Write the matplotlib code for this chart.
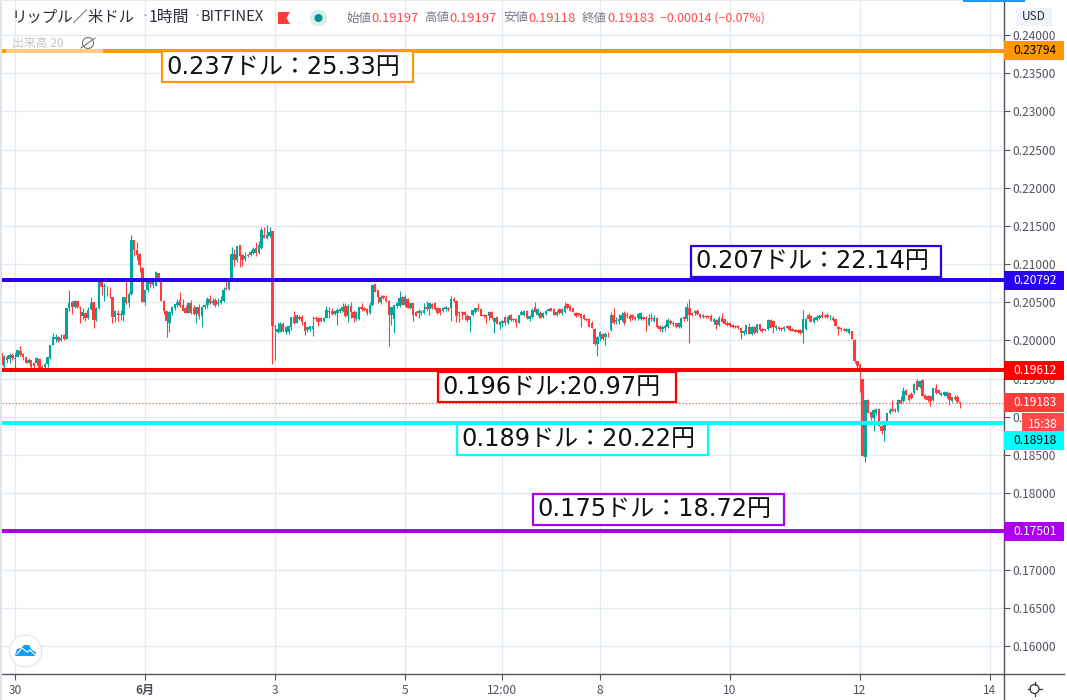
import matplotlib
matplotlib.use("Agg")
import matplotlib.pyplot as plt
import numpy as np
from matplotlib.patches import Rectangle, Circle, Polygon
from matplotlib.transforms import Affine2D, blended_transform_factory

plt.rcParams['font.family'] = ['Noto Sans CJK JP', 'DejaVu Sans']

# hourly candles, hours counted from 30 May 00:00, prices x 1e5
hours = np.arange(-5, 350)
opens = [19832,19668,19785,19758,19810,19757,19790,19862,19822,19788,19710,19745,19710,19710,19757,19657,19648,19690,19766,19940,20025,20046,20007,20072,20024,20421,20500,20434,20517,20443,20321,20356,20290,20408,20505,20270,20421,20770,20705,20640,20610,20565,20310,20360,20330,20330,20565,20485,20605,21310,21185,21130,20950,20510,20660,20790,20730,20715,20880,20770,20520,20380,20235,20360,20430,20465,20530,20465,20420,20365,20485,20420,20345,20445,20320,20445,20465,20545,20495,20530,20475,20490,20520,20685,20675,20815,21130,21055,21250,21120,21065,21120,21120,21140,21205,21140,21215,21385,21340,21370,21435,20190,20115,20115,20215,20115,20115,20180,20310,20235,20305,
20303,20245,20135,20145,20145,20300,20300,20295,20260,20300,20390,20390,20345,20365,20380,20390,20450,20325,20450,20375,20275,20280,20445,20420,20410,20365,20465,20735,20660,20500,20585,20560,20520,20335,20280,20450,20455,20575,20465,20545,20420,20485,20375,20355,20355,20365,20435,20415,20475,20487,20420,20420,20390,20410,20420,20420,20545,20520,20370,20370,20375,20325,20265,20335,20375,20430,20410,20335,20335,20320,20370,20245,20310,20200,20225,20310,20225,20335,20275,20275,20230,20335,20335,20390,20280,20310,20435,20335,20355,20310,20345,20390,20420,20410,20335,20410,20355,20375,20475,20450,20420,20365,20355,20345,20340,20280,20275,20235,20155,19950,
20050,20080,20040,20090,20135,20335,20245,20255,20270,20355,20340,20320,20335,20310,20290,20285,20310,20300,20200,20300,20260,20290,20195,20150,20160,20180,20260,20235,20225,20180,20180,20310,20275,20420,20355,20355,20380,20345,20305,20325,20325,20320,20245,20268,20200,20300,20275,20230,20225,20200,20190,20190,20170,20100,20115,20180,20090,20180,20115,20215,20150,20145,20145,20270,20260,20170,20180,20165,20145,20190,20190,20150,20135,20135,20135,20100,20150,20340,20320,20245,20270,20300,20335,20325,20340,20290,20300,20275,20180,20165,20155,20130,20100,20120,
20009,19726,19680,19495,18475,19225,19060,18990,19050,19105,18885,18810,18900,19050,19105,19095,19075,19225,19205,19355,19290,19305,19310,19465,19390,19480,19290,19270,19270,19215,19380,19355,19290,19290,19270,19310,19205,19255,19255,19197]
highs = [19850,19810,19810,19830,19840,19830,19880,19930,19830,19790,19770,19750,19720,19790,19770,19680,19710,19785,19945,20100,20090,20060,20080,20090,20430,20660,20520,20530,20520,20450,20420,20370,20440,20575,20510,20440,20770,20790,20750,20720,20700,20570,20400,20395,20400,20570,20780,20640,21380,21315,21290,21140,20960,20665,20760,20800,20810,20910,20890,20775,20530,20390,20380,20450,20480,20545,20630,20540,20470,20510,20530,20470,20440,20480,20455,20480,20565,20600,20550,20550,20550,20580,20700,20810,20790,21230,21200,21240,21255,21130,21160,21135,21180,21220,21290,21300,21480,21480,21510,21490,21440,20200,20240,20240,20240,20190,20195,20310,20380,20340,20340,
20335,20250,20180,20190,20315,20320,20310,20310,20310,20450,20440,20430,20400,20420,20430,20490,20490,20480,20500,20400,20390,20440,20495,20440,20430,20500,20730,20740,20665,20590,20600,20600,20530,20445,20470,20500,20650,20580,20600,20560,20490,20490,20380,20410,20400,20485,20520,20490,20490,20510,20440,20430,20445,20455,20440,20585,20570,20530,20380,20385,20390,20345,20325,20405,20440,20485,20420,20350,20350,20385,20385,20310,20320,20260,20270,20320,20330,20350,20290,20290,20335,20400,20400,20395,20340,20430,20500,20420,20390,20370,20400,20420,20430,20420,20400,20420,20420,20500,20490,20470,20430,20370,20365,20360,20350,20300,20290,20250,20160,20055,
20130,20095,20110,20105,20370,20420,20310,20350,20375,20380,20370,20345,20345,20325,20360,20370,20325,20320,20350,20355,20330,20310,20200,20200,20210,20290,20280,20250,20235,20240,20310,20320,20485,20545,20370,20395,20415,20365,20345,20340,20340,20350,20290,20285,20315,20355,20285,20250,20240,20210,20200,20200,20180,20140,20205,20225,20190,20190,20220,20220,20160,20155,20280,20285,20270,20200,20190,20175,20190,20200,20200,20160,20150,20150,20150,20400,20290,20360,20340,20310,20330,20350,20385,20345,20355,20330,20320,20285,20185,20180,20170,20170,20170,20130,
20015,19730,19700,19500,19220,19230,19070,19105,19110,19120,18895,18905,19055,19110,19225,19110,19230,19270,19390,19370,19300,19320,19440,19500,19470,19490,19300,19280,19280,19380,19430,19370,19330,19340,19340,19320,19265,19280,19280,19197]
lows = [19640,19640,19700,19700,19750,19635,19780,19800,19750,19700,19700,19635,19640,19680,19635,19630,19635,19650,19760,19935,19980,19980,19990,20010,20020,20380,20350,20420,20420,20230,20280,20255,20280,20400,20170,20260,20410,20600,20520,20580,20550,20230,20240,20250,20270,20260,20480,20440,20600,21100,21050,20900,20500,20465,20640,20700,20690,20710,20770,20520,20350,20040,20115,20340,20400,20440,20440,20380,20360,20360,20350,20340,20230,20280,20180,20410,20430,20480,20470,20440,20450,20480,20510,20660,20660,20810,20980,21030,20960,20970,21040,21090,21100,21130,21100,21130,21200,21340,21330,21360,19690,19745,20095,20110,20115,20090,20090,20140,20220,20225,20270,
20200,20070,20110,20120,20060,20260,20190,20240,20240,20290,20290,20330,20330,20200,20360,20370,20310,20240,20290,20245,20260,20270,20390,20380,20340,20350,20450,20630,20485,20480,20540,20500,19925,20200,20100,20430,20440,20460,20450,20420,20410,20260,20320,20290,20340,20345,20390,20335,20410,20400,20350,20340,20370,20380,20390,20255,20500,20245,20245,20280,20270,20245,20105,20320,20360,20390,20325,20300,20230,20265,20285,20100,20210,20150,20180,20200,20210,20260,20255,20180,20225,20330,20320,20285,20255,20300,20370,20320,20290,20300,20330,20380,20380,20330,20320,20350,20340,20360,20415,20385,20375,20310,20320,20180,20270,20255,20175,20165,19935,19795,
19990,20010,19940,20050,20120,20220,20210,20220,20260,20200,20300,20260,20270,20270,20270,20270,20270,20125,20190,20260,20240,20160,20130,20110,20130,20170,20210,20195,20170,20170,20170,20260,20260,19970,20320,20340,20340,20300,20290,20300,20300,20255,20220,20150,20190,20240,20210,20195,20180,20170,20165,20145,20015,20070,20090,20080,20075,20090,20100,20130,20110,20125,20135,20160,20100,20140,20135,20130,20130,20160,20130,20120,20105,20100,20090,19970,20140,20260,20240,20230,20260,20280,20290,20290,20290,20270,20255,20185,20070,20130,20125,20110,20085,20020,
19700,19640,19320,18485,18405,19050,18960,18810,19030,18885,18780,18680,18890,19040,19060,19060,19060,19165,19190,19280,19210,19240,19300,19355,19380,19270,19230,19200,19145,19210,19300,19300,19270,19270,19250,19160,19190,19220,19185,19118]
closes = [19679,19797,19745,19810,19766,19766,19875,19810,19788,19710,19745,19657,19660,19766,19635,19640,19690,19780,19940,20050,20042,19998,20037,20020,20421,20487,20434,20517,20443,20421,20373,20299,20400,20487,20270,20430,20770,20700,20718,20630,20600,20310,20390,20330,20343,20565,20485,20605,21310,21185,21120,20990,20510,20660,20760,20740,20790,20900,20770,20520,20380,20250,20370,20445,20475,20500,20450,20390,20365,20495,20355,20345,20435,20320,20445,20465,20545,20495,20520,20465,20510,20530,20660,20670,20760,21130,21055,21240,21110,21055,21110,21112,21155,21195,21140,21250,21450,21340,21385,21425,20190,20175,20150,20215,20130,20180,20190,20305,20225,20335,20280,
20245,20125,20180,20188,20188,20280,20245,20255,20300,20400,20375,20345,20380,20400,20410,20435,20325,20450,20375,20290,20375,20435,20410,20400,20355,20465,20730,20640,20565,20575,20550,20515,20335,20443,20465,20487,20560,20465,20565,20420,20485,20335,20320,20390,20390,20400,20410,20487,20420,20410,20355,20355,20430,20435,20412,20545,20520,20325,20355,20355,20335,20265,20320,20400,20420,20400,20325,20320,20310,20370,20290,20300,20210,20245,20260,20235,20310,20270,20265,20225,20335,20375,20390,20290,20325,20400,20375,20410,20300,20355,20390,20410,20390,20335,20375,20355,20410,20450,20420,20390,20375,20325,20335,20290,20275,20265,20180,20170,19950,20050,
20115,20025,20090,20080,20335,20235,20268,20275,20335,20235,20320,20275,20290,20275,20345,20355,20275,20275,20300,20275,20290,20180,20150,20180,20195,20268,20225,20215,20180,20225,20290,20275,20435,20340,20340,20380,20345,20310,20335,20310,20310,20260,20275,20200,20300,20245,20210,20200,20190,20180,20180,20160,20100,20125,20200,20090,20180,20100,20215,20135,20125,20135,20270,20170,20180,20190,20150,20145,20180,20170,20135,20125,20115,20110,20100,20275,20275,20275,20245,20290,20310,20320,20305,20305,20305,20300,20270,20190,20145,20145,20135,20145,20155,20025,
19726,19660,19640,18485,19215,19050,19000,19095,19105,18885,18810,18900,19050,19095,19075,19075,19225,19180,19335,19290,19225,19250,19435,19355,19465,19270,19235,19215,19210,19380,19310,19310,19310,19320,19320,19225,19255,19235,19190,19183]

price_ticks = np.arange(0.16, 0.2401, 0.005)
time_ticks = [0, 48, 96, 144, 180, 216, 264, 312, 360]
time_labels = ['30', '6月', '3', '5', '12:00', '8', '10', '12', '14']
levels = [0.23794, 0.20792, 0.19612, 0.18918, 0.17501]
level_colors = ['#ff9800', '#2a00f0', '#ff0000', '#00ffff', '#aa00ee']
level_text = ['black', 'white', 'white', 'black', 'white']
tag_shift = [0, 0, 0, 17, 0]   # cyan tag is pushed down below the countdown
notes = ['0.237ドル：25.33円', '0.207ドル：22.14円', '0.196ドル:20.97円', '0.189ドル：20.22円', '0.175ドル：18.72円']
note_boxes = [(162, 51, 251, 31), (691, 246, 250, 31), (438, 372, 238, 30), (457, 424, 251, 31), (533, 494, 251, 31)]
last_price = 0.19183

UP = '#00a79d'
DOWN = '#ff3b3b'
AXIS = '#50535e'
GRID = '#e1ecf2'
LABEL = '#787b86'

fig = plt.figure(figsize=(10.67, 7.0), dpi=100)
W, H = 1067.0, 700.0
# pixel position helper for the decorations (origin top left)
px = Affine2D().scale(1 / W, -1 / H).translate(0, 1) + fig.transFigure

ax = fig.add_axes([2 / W, 26 / H, 1002 / W, 674 / H])
ax.set_xlim((2 - 15) * 24 / 65, (1004 - 15) * 24 / 65)
ax.set_ylim(0.24 - (674 - 35) / 7637.5, 0.24 + 35 / 7637.5)

o = np.array(opens) / 1e5
h = np.array(highs) / 1e5
l = np.array(lows) / 1e5
c = np.array(closes) / 1e5
colors = [UP if b >= a else DOWN for a, b in zip(o, c)]
ax.vlines(hours, l, h, colors=colors, linewidth=0.8, zorder=3)
ax.bar(hours, np.maximum(np.abs(c - o), 0.00002), bottom=np.minimum(o, c), width=0.92, color=colors, linewidth=0, zorder=3)

ax.axhline(last_price, color=DOWN, linewidth=0.8, linestyle=(0, (1, 2)), zorder=4)
for lev, col in zip(levels, level_colors):
    ax.axhline(lev, color=col, linewidth=2.9, zorder=5)

ax.yaxis.tick_right()
ax.set_yticks(price_ticks)
# 0.17500 sits fully under the purple tag
ax.set_yticklabels(['' if abs(t - 0.175) < 1e-6 else '%.5f' % t for t in price_ticks], fontsize=8.6, color=AXIS)
ax.set_xticks(time_ticks)
ax.set_xticklabels(time_labels, fontsize=8.6, color=AXIS)
ax.get_xticklabels()[1].set_fontweight('bold')
ax.tick_params(axis='y', length=4, width=0.8, color=AXIS, pad=2)
ax.tick_params(axis='x', length=4, width=0.8, color=AXIS, pad=3)
ax.grid(True, color=GRID, linewidth=1.0, zorder=0)
ax.set_axisbelow(True)
for s in ['left', 'top']:
    ax.spines[s].set_visible(False)
for s in ['right', 'bottom']:
    ax.spines[s].set_color(AXIS)
    ax.spines[s].set_linewidth(1.0)

# axis lines run on past the plot
fig.add_artist(plt.Line2D([1004, 1004], [674, 700], transform=px, color=AXIS, linewidth=1.0))
fig.add_artist(plt.Line2D([1004, 1064], [674, 674], transform=px, color=AXIS, linewidth=1.0))
fig.add_artist(Rectangle((0, 0), 2, 700, transform=px, color='#dfe3ee', linewidth=0))
fig.add_artist(Rectangle((0, 0), 1004, 1, transform=px, color='#e8ebf2', linewidth=0))
fig.add_artist(Rectangle((963, 0), 62, 1.5, transform=px, color='#2196f3', linewidth=0))

# price tags on the right scale
trans = blended_transform_factory(ax.transAxes, ax.transData)
tag_w = 60 / 1002.0
tag_h = 19 / 7637.5
for lev, col, tc, sh in zip(levels, level_colors, level_text, tag_shift):
    mid = lev - sh / 7637.5
    ax.add_patch(Rectangle((1, mid - tag_h / 2), tag_w, tag_h, transform=trans, color=col, linewidth=0, clip_on=False, zorder=6))
    ax.text(1 + 9 / 1002.0, mid, '%.5f' % lev, transform=trans, color=tc, fontsize=8.6, va='center', ha='left', clip_on=False, zorder=7)
ax.add_patch(Rectangle((1, last_price - tag_h / 2), tag_w, tag_h, transform=trans, color=DOWN, linewidth=0, clip_on=False, zorder=6))
ax.text(1 + 9 / 1002.0, last_price, '%.5f' % last_price, transform=trans, color='white', fontsize=8.6, va='center', ha='left', clip_on=False, zorder=7)
fig.add_artist(Rectangle((1022, 413), 42, 18, transform=px, color='#ff4a4a', linewidth=0, zorder=8))
fig.text(1043 / W, 1 - 424 / H, '15:38', color='white', fontsize=8.6, ha='center', va='center', zorder=9)

# text boxes drawn on the chart
for (x, y, w, h_), txt, col in zip(note_boxes, notes, level_colors):
    fig.add_artist(Rectangle((x, y), w, h_, transform=px, facecolor='white', edgecolor=col, linewidth=1.6, zorder=8))
    fig.text((x + 4) / W, 1 - (y + h_ / 2) / H, txt, fontsize=17.3, family=['DejaVu Sans', 'Noto Sans CJK JP'], color='#111111', va='center', ha='left', zorder=9)

# header
fig.text(12 / W, 1 - 17 / H, 'リップル／米ドル', fontsize=11.1, color='#2a2e39', va='center')
fig.text(149 / W, 1 - 17 / H, '1時間', fontsize=11.4, color='#2a2e39', va='center')
fig.text(201 / W, 1 - 17 / H, 'BITFINEX', fontsize=10.6, color='#2a2e39', va='center')
fig.text(141 / W, 1 - 17 / H, '·', fontsize=9, color=LABEL, va='center')
fig.text(193 / W, 1 - 17 / H, '·', fontsize=9, color=LABEL, va='center')
fig.add_artist(Polygon([(278, 12), (290, 12), (286.5, 18), (290, 24), (278, 24)], transform=px, color='#ff3b3b', linewidth=0))
fig.add_artist(Circle((318.5, 18), 8.5, transform=px, color='#d8efec', linewidth=0))
fig.add_artist(Circle((318.5, 18), 4, transform=px, color='#009688', linewidth=0))
ohlc_names = ['始値', '高値', '安値', '終値']
ohlc_vals = ['0.19197', '0.19197', '0.19118', '0.19183']
for i, (n, v) in enumerate(zip(ohlc_names, ohlc_vals)):
    fig.text((346 + 78.7 * i) / W, 1 - 18 / H, n, fontsize=9, color=LABEL, va='center')
    fig.text((371 + 78.7 * i) / W, 1 - 18 / H, v, fontsize=9.4, color='#ff4a4a', va='center')
fig.text(660 / W, 1 - 18 / H, '−0.00014 (−0.07%)', fontsize=8.9, color='#ff4a4a', va='center')

# USD button
fig.add_artist(Rectangle((1016, 8), 36, 18, transform=px, color='#f0f3fa', linewidth=0))
fig.text(1034 / W, 1 - 17 / H, 'USD', fontsize=8.6, color='#2a2e39', ha='center', va='center')

# volume legend row over the top line
fig.add_artist(Rectangle((6, 36), 97, 17, transform=px, color='white', alpha=0.5, linewidth=0, zorder=6))
fig.text(12 / W, 1 - 43 / H, '出来高 20', fontsize=8.6, color='#c4c6cc', va='center', zorder=7)
fig.add_artist(Circle((88, 43), 5.5, transform=px, facecolor='none', edgecolor='#777777', linewidth=0.8, zorder=7))
fig.add_artist(plt.Line2D([81, 95], [48, 38], transform=px, color='#777777', linewidth=0.8, zorder=7))

# logo bottom left
fig.add_artist(Circle((25.5, 651), 16, transform=px, facecolor='white', edgecolor='#e4e4e4', linewidth=0.8, zorder=6))
fig.add_artist(Polygon([(15, 655), (17, 649), (21, 648), (24, 645), (29, 645), (32, 650), (36, 652), (35, 656), (16, 656)], transform=px, color='#10a0f8', linewidth=0, zorder=7))
fig.add_artist(plt.Line2D([17, 22, 27, 30, 35], [654, 648, 652, 650, 655], transform=px, color='white', linewidth=0.8, zorder=8))

# settings wheel bottom right
fig.add_artist(Circle((1034.5, 689), 4.5, transform=px, facecolor='white', edgecolor='#333333', linewidth=0.9))
for a, b, d, e in [(1034.5, 682, 1034.5, 684.5), (1034.5, 693.5, 1034.5, 696), (1027.5, 689, 1030, 689), (1039, 689, 1041.5, 689)]:
    fig.add_artist(plt.Line2D([a, d], [b, e], transform=px, color='#333333', linewidth=0.9))

fig.savefig('out.png', dpi=100)
